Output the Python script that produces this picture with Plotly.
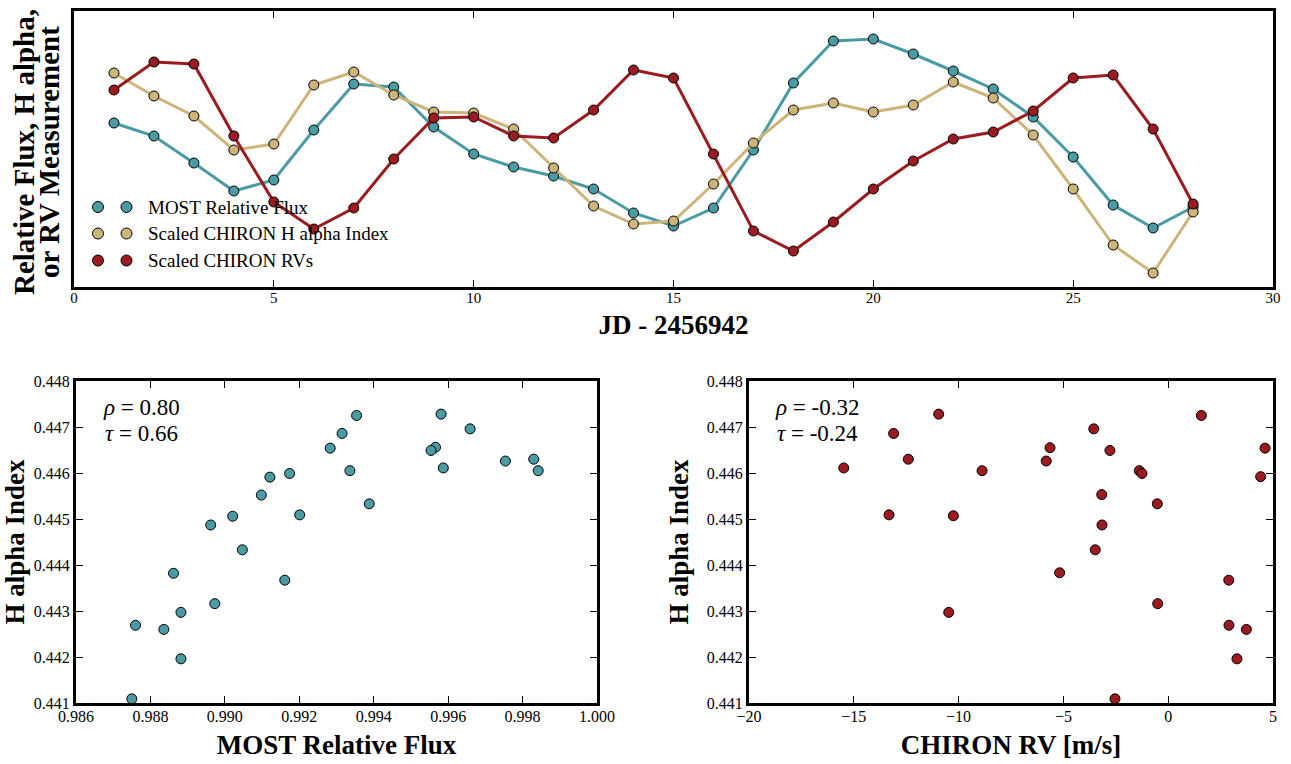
import plotly.graph_objects as go

# ---------------- data ----------------
days = list(range(1, 29))
most_flux_scaled = [164, 151, 124, 96, 107, 157, 203, 200, 160, 133, 120, 111, 98, 74,
                    61, 79, 137, 204, 246, 248, 233, 216, 198, 170, 130, 82, 59, 80]
halpha_scaled = [214, 191, 171, 137, 143, 202, 215, 192, 175, 174, 158, 119, 81, 63,
                 66, 103, 144, 177, 184, 175, 182, 205, 189, 152, 98, 42, 14, 75]
rv_scaled = [197, 225, 223, 151, 85, 58, 79, 128, 169, 170, 151, 149, 177, 217,
             209, 133, 56, 36, 65, 98, 126, 148, 155, 176, 209, 212, 158, 83]

flux_obs = [0.98750, 0.98760, 0.98836, 0.98862, 0.98882, 0.98882, 0.98962, 0.98973,
            0.99021, 0.99047, 0.99098, 0.99121, 0.99161, 0.99174, 0.99201, 0.99283,
            0.99315, 0.99336, 0.99354, 0.99388, 0.99581, 0.99659, 0.99566, 0.99554,
            0.99587, 0.99754, 0.99830, 0.99842]
halpha_vs_flux = [0.44109, 0.44269, 0.44260, 0.44382, 0.44297, 0.44196, 0.44487, 0.44316,
                  0.44506, 0.44433, 0.44552, 0.44591, 0.44367, 0.44599, 0.44509, 0.44654,
                  0.44686, 0.44605, 0.44725, 0.44533, 0.44728, 0.44696, 0.44656, 0.44649,
                  0.44611, 0.44626, 0.44630, 0.44605]

rv_obs = [-15.48, -13.10, -13.32, -12.40, -10.95, -10.25, -10.47, -8.88, -5.82, -5.64,
          -5.18, -3.55, -3.48, -3.17, -3.16, -2.78, -2.54, -1.38, -1.25, -0.52, -0.50,
          1.58, 2.89, 2.90, 3.28, 3.73, 4.41, 4.62]
halpha_vs_rv = [0.44611, 0.44686, 0.44509, 0.44630, 0.44728, 0.44507, 0.44297, 0.44605,
                0.44626, 0.44655, 0.44383, 0.44696, 0.44433, 0.44553, 0.44487, 0.44649,
                0.44109, 0.44605, 0.44599, 0.44533, 0.44316, 0.44725, 0.44367, 0.44269,
                0.44196, 0.44260, 0.44592, 0.44654]

series_names = ["MOST Relative Flux", "Scaled CHIRON H alpha Index", "Scaled CHIRON RVs"]
stats_flux = ["<i>ρ</i> = 0.80", "<i>τ</i> = 0.66"]
stats_rv = ["<i>ρ</i> = -0.32", "<i>τ</i> = -0.24"]

TEAL = "#4A9BA3"
TAN = "#CDB57A"
RED = "#9B1B20"
SERIF = "Liberation Serif"

W, H = 1291, 764


def fx(p):
    return p / W


def fy(p):
    return 1 - p / H


fig = go.Figure()

for name, vals, col in zip(series_names, [most_flux_scaled, halpha_scaled, rv_scaled],
                           [TEAL, TAN, RED]):
    fig.add_trace(go.Scatter(
        x=days, y=vals, mode="lines+markers", name=name,
        line=dict(color=col, width=3),
        marker=dict(size=10, color=col, line=dict(color="black", width=1)),
        showlegend=False, xaxis="x", yaxis="y"))

fig.add_trace(go.Scatter(
    x=flux_obs, y=halpha_vs_flux, mode="markers", name="MOST vs H alpha",
    marker=dict(size=10, color=TEAL, line=dict(color="black", width=1)),
    showlegend=False, xaxis="x2", yaxis="y2"))

fig.add_trace(go.Scatter(
    x=rv_obs, y=halpha_vs_rv, mode="markers", name="RV vs H alpha",
    marker=dict(size=10, color=RED, line=dict(color="black", width=1)),
    showlegend=False, xaxis="x3", yaxis="y3"))

common = dict(showline=True, linewidth=3, linecolor="black", mirror="allticks",
              ticks="inside", ticklen=7, tickwidth=1.3, tickcolor="black",
              showgrid=False, zeroline=False, automargin=False,
              tickfont=dict(family=SERIF, size=16, color="black"))
title_font = dict(family=SERIF, size=27, color="black", weight="bold")

fig.update_layout(
    width=W, height=H,
    margin=dict(l=0, r=0, t=0, b=0, autoexpand=False),
    paper_bgcolor="white", plot_bgcolor="white",
    showlegend=False,
    xaxis=dict(domain=[fx(74), fx(1273)], anchor="y", range=[0, 30], dtick=5,
               ticklabelstandoff=-5,
               title=dict(text="JD - 2456942", font=title_font, standoff=11),
               **{**common, "tickfont": dict(family=SERIF, size=15, color="black")}),
    yaxis=dict(domain=[fy(287), fy(11)], anchor="x", range=[0, 276],
               showline=True, linewidth=3, linecolor="black", mirror=True,
               ticks="", showticklabels=False, showgrid=False, zeroline=False,
               automargin=False),
    xaxis2=dict(domain=[fx(76), fx(597)], anchor="y2", range=[0.986, 1.000],
                dtick=0.002, tickformat=".3f", ticklabelstandoff=-3,
                title=dict(text="MOST Relative Flux", font=title_font, standoff=11),
                **common),
    yaxis2=dict(domain=[fy(703), fy(381)], anchor="x2", range=[0.441, 0.448],
                dtick=0.001, tickformat=".3f",
                title=dict(text="H alpha Index", font=title_font, standoff=11),
                **common),
    xaxis3=dict(domain=[fx(749), fx(1273)], anchor="y3", range=[-20, 5], dtick=5,
                ticklabelstandoff=-3,
                title=dict(text="CHIRON RV [m/s]", font=title_font, standoff=11),
                **common),
    yaxis3=dict(domain=[fy(703), fy(381)], anchor="x3", range=[0.441, 0.448],
                dtick=0.001, tickformat=".3f",
                title=dict(text="H alpha Index", font=title_font, standoff=11),
                **common),
)

annotations = []
shapes = []

# top y-axis title (two lines)
for txt, xc in [("Relative Flux, H alpha,", 24), ("or RV Measurement", 49)]:
    annotations.append(dict(text=txt, x=fx(xc), y=fy(152), xref="paper", yref="paper",
                            xanchor="center", yanchor="middle", textangle=-90,
                            showarrow=False, font=dict(family=SERIF, size=29,
                                                       color="black", weight="bold")))

# legend (two markers per entry, like the original)
legend_rows = [207, 233.5, 260.5]
for name, col, row in zip(series_names, [TEAL, TAN, RED], legend_rows):
    for mx in (98, 126.5):
        shapes.append(dict(type="circle", xref="paper", yref="paper",
                           xsizemode="pixel", ysizemode="pixel",
                           xanchor=fx(mx), yanchor=fy(row),
                           x0=-5.5, x1=5.5, y0=-5.5, y1=5.5,
                           fillcolor=col, line=dict(color="black", width=1)))
    annotations.append(dict(text=name, x=fx(146), y=fy(row), xref="paper", yref="paper",
                            xanchor="left", yanchor="middle", showarrow=False,
                            font=dict(family=SERIF, size=19, color="black")))

# correlation statistics
for lines, xc in [(stats_flux, 141), (stats_rv, 817)]:
    for txt, yc in zip(lines, [407, 433]):
        annotations.append(dict(text=txt, x=fx(xc), y=fy(yc), xref="paper", yref="paper",
                                xanchor="center", yanchor="middle", showarrow=False,
                                font=dict(family=SERIF, size=23, color="black")))

fig.update_layout(annotations=annotations, shapes=shapes)

fig.write_html("out.html")
